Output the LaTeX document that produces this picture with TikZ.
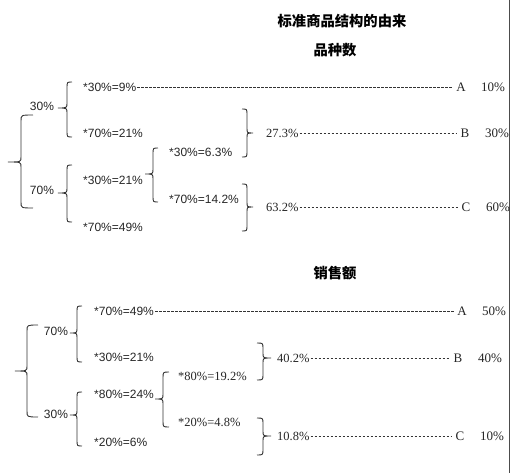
\documentclass[tikz,border=0pt]{standalone}
\usepackage{fontspec}
\setmainfont{Liberation Serif}
\newfontfamily\labfont{Liberation Sans}
\newfontfamily\cjk{Noto Sans CJK SC}
\newcommand\brc[6]{\draw[br] (#4,#5) .. controls (#3,#5) .. (#3,#5+6) -- (#3,#2-5) .. controls (#3,#2) .. (#1,#2) .. controls (#3,#2) .. (#3,#2+5) -- (#3,#6-6) .. controls (#3,#6) .. (#4,#6);}
\tikzset{
  br/.style={line width=0.9pt, black!80},
  lab/.style={font=\labfont\fontsize{12}{12}\selectfont, anchor=west, inner sep=1pt, text=black!85},
  num/.style={font=\fontsize{12.5}{12.5}\selectfont, anchor=west, inner sep=1pt, text=black!85},
  let/.style={font=\fontsize{13}{13}\selectfont, inner sep=2pt, text=black!85},
  pct/.style={font=\fontsize{13}{13}\selectfont, inner sep=1pt, text=black!85},
  ttl/.style={font=\cjk\bfseries\fontsize{14.3}{14.3}\selectfont, inner sep=1pt},
  dl/.style={dashed, dash pattern=on 2.6pt off 1.4pt, line width=0.6pt, black!80, shorten >=1pt}
}
\begin{document}
\begin{tikzpicture}[x=1pt,y=-1pt]
\useasboundingbox (0,0) rectangle (516,473);
\draw[black!70, line width=1pt] (509,0) -- (509,473);
% titles
\node[ttl] (title) at (342,21) {标准商品结构的由来};
\node[ttl] (t1) at (335,50) {品种数};
\node[ttl] (t2) at (335,273) {销售额};
% ---------- top ----------
\brc{8}{162}{21}{33}{115}{208}
\node[lab, anchor=center] (p30) at (42,106) {30\%};
\node[lab, anchor=center] (p70) at (42,190) {70\%};
\brc{58}{108}{67}{72}{82}{137}
\brc{58}{193}{67}{72}{165}{222}
\node[lab] (a1) at (82,87) {*30\%=9\%};
\node[lab] (a2) at (82,133) {*70\%=21\%};
\node[lab] (a3) at (82,180) {*30\%=21\%};
\node[lab] (a4) at (82,227) {*70\%=49\%};
\brc{145}{174}{153}{158}{148}{202}
\node[lab] (b1) at (168,152) {*30\%=6.3\%};
\node[lab] (b2) at (168,199) {*70\%=14.2\%};
\brc{253}{133}{247}{242}{109}{157}
\brc{253}{207}{247}{242}{184}{231}
\node[num] (c1) at (265,133) {27.3\%};
\node[num] (c2) at (265,207) {63.2\%};
\node[let] (A1) at (461,87) {A};
\node[let] (B1) at (465,133) {B};
\node[let] (C1) at (466,207) {C};
\node[pct] (r1) at (493,87) {10\%};
\node[pct] (r2) at (497,133) {30\%};
\node[pct] (r3) at (498,207) {60\%};
\draw[dl] (a1.east) -- (A1.west);
\draw[dl] (c1.east) -- (B1.west);
\draw[dl] (c2.east) -- (C1.west);
% ---------- bottom ----------
\brc{15}{371}{27}{38}{325}{417}
\node[lab, anchor=center] (q70) at (56,331) {70\%};
\node[lab, anchor=center] (q30) at (56,414) {30\%};
\brc{70}{333}{77}{82}{306}{362}
\brc{70}{415}{77}{82}{392}{446}
\node[lab] (d1) at (93,311) {*70\%=49\%};
\node[lab] (d2) at (93,357) {*30\%=21\%};
\node[lab] (d3) at (93,394) {*80\%=24\%};
\node[lab] (d4) at (93,442) {*20\%=6\%};
\brc{155}{399}{163}{169}{372}{427}
\node[num] (e1) at (177,376) {*80\%=19.2\%};
\node[num] (e2) at (177,422) {*20\%=4.8\%};
\brc{271}{358}{263}{257}{343}{380}
\brc{271}{436}{263}{257}{418}{455}
\node[num] (f1) at (276,358) {40.2\%};
\node[num] (f2) at (276,436) {10.8\%};
\node[let] (A2) at (462,311) {A};
\node[let] (B2) at (458,358) {B};
\node[let] (C2) at (460,436) {C};
\node[pct] (s1) at (494,311) {50\%};
\node[pct] (s2) at (490,358) {40\%};
\node[pct] (s3) at (492,436) {10\%};
\draw[dl] (d1.east) -- (A2.west);
\draw[dl] (f1.east) -- (B2.west);
\draw[dl] (f2.east) -- (C2.west);
\end{tikzpicture}
\end{document}
